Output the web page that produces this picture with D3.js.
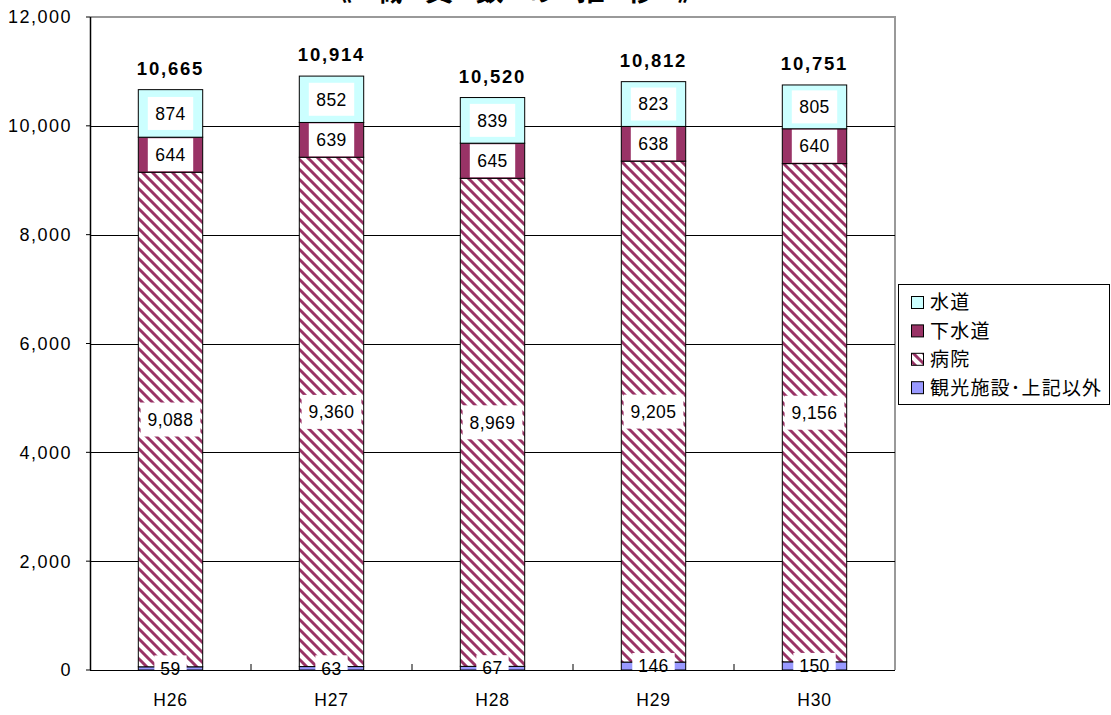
<!DOCTYPE html>
<html><head><meta charset="utf-8">
<script src="https://cdn.jsdelivr.net/npm/d3@7"></script>
<style>
html,body{margin:0;padding:0;background:#fff;}
svg{display:block;font-family:"Liberation Sans","Noto Sans CJK JP",sans-serif;}
</style></head>
<body>
<svg id="chart" width="1111" height="715"></svg>
<script>
const categories = ["H26","H27","H28","H29","H30"];
const seriesNames = ["観光施設･上記以外","病院","下水道","水道"];
const kankou  = [59, 63, 67, 146, 150];
const byouin  = [9088, 9360, 8969, 9205, 9156];
const gesuidou= [644, 639, 645, 638, 640];
const suidou  = [874, 852, 839, 823, 805];
const yTicks  = [0,2000,4000,6000,8000,10000,12000];
const legendOrder = ["水道","下水道","病院","観光施設･上記以外"];
const titleChars = ["《","職","員","数","の","推","移","》"];

const svg = d3.select("#chart");
const L = 90, R = 895, T = 17, B = 670;

const x = d3.scaleBand().domain(categories).range([L, R]).paddingInner(0.6).paddingOuter(0.3);
const y = d3.scaleLinear().domain([0, 12000]).range([B, T]);

const defs = svg.append("defs");
const P = 10;
const pat = defs.append("pattern").attr("id","hatch").attr("patternUnits","userSpaceOnUse")
  .attr("width",P).attr("height",P);
pat.append("rect").attr("width",P).attr("height",P).attr("fill","#fff");
pat.append("path").attr("d",`M0,0L${P},${P}M${-P/2},${P/2}L${P/2},${P*1.5}M${P/2},${-P/2}L${P*1.5},${P/2}`)
  .attr("stroke","#993366").attr("stroke-width",3);

const colors = {"水道":"#ccffff","下水道":"#993366","病院":"url(#hatch)","観光施設･上記以外":"#9999ff"};

// title (cut off at top edge, as in the reference)
svg.append("g").selectAll("text").data(titleChars).join("text")
  .attr("x",(d,i)=>338 + i*50.5).attr("y",1)
  .attr("text-anchor","middle").attr("font-size",28).attr("font-weight","bold")
  .attr("font-family","Noto Sans CJK JP").text(d=>d);

// plot border top/right (gray)
svg.append("path").attr("d",`M${L},${T}H${R}V${B}`).attr("fill","none").attr("stroke","#999").attr("stroke-width",2);

// gridlines
svg.append("g").selectAll("line").data(yTicks.filter(v=>v>0 && v<12000)).join("line")
  .attr("x1",L).attr("x2",R).attr("y1",d=>Math.round(y(d))+0.5).attr("y2",d=>Math.round(y(d))+0.5)
  .attr("stroke","#000").attr("stroke-width",1);

// stacked data
const table = categories.map((c,i)=>({cat:c,"観光施設･上記以外":kankou[i],"病院":byouin[i],"下水道":gesuidou[i],"水道":suidou[i]}));
const stack = d3.stack().keys(seriesNames)(table);

const gBars = svg.append("g");
stack.forEach(layer=>{
  gBars.append("g").selectAll("rect").data(layer).join("rect")
    .attr("x",d=>x(d.data.cat)).attr("width",x.bandwidth())
    .attr("y",d=>y(d[1])).attr("height",d=>y(d[0])-y(d[1]))
    .attr("fill",colors[layer.key]).attr("stroke","#000").attr("stroke-width",1);
});

// value labels
const gLab = svg.append("g").attr("font-size",17.5);
stack.forEach(layer=>{
  layer.forEach(d=>{
    const v = d.data[layer.key];
    const cx = x(d.data.cat) + x.bandwidth()/2;
    const cy = (y(d[0])+y(d[1]))/2;
    const g = gLab.append("g");
    const rect = g.append("rect").attr("fill","#fff");
    const t = g.append("text").attr("x",cx).attr("y",cy).attr("dy","0.36em")
      .attr("text-anchor","middle").attr("letter-spacing",0.4).text(d3.format(",")(v));
    const w = t.node().getComputedTextLength();
    let bw, bh;
    if (layer.key==="病院"){ bw = w+14; bh = 34; }
    else if (layer.key==="観光施設･上記以外"){ bw = w+12; bh = 26; }
    else { bw = w+15; bh = Math.min(33, y(d[0])-y(d[1])-1); }
    rect.attr("x",cx-bw/2).attr("y",cy-bh/2).attr("width",bw).attr("height",bh);
  });
});

// totals
const topLayer = stack[stack.length-1];
svg.append("g").selectAll("text").data(topLayer).join("text")
  .attr("x",d=>x(d.data.cat)+x.bandwidth()/2).attr("y",d=>y(d[1])-15)
  .attr("text-anchor","middle").attr("font-size",18.5).attr("font-weight","bold").attr("letter-spacing",1.8)
  .text(d=>d3.format(",")(d[1]));

// x axis
const xb = svg.append("g");
xb.append("line").attr("x1",L).attr("x2",R).attr("y1",B+0.5).attr("y2",B+0.5).attr("stroke","#000");
xb.selectAll("line.tk").data(d3.range(1,categories.length)).join("line").attr("class","tk")
  .attr("x1",i=>L+i*x.step()).attr("x2",i=>L+i*x.step()).attr("y1",B).attr("y2",B-6).attr("stroke","#000");
xb.selectAll("text").data(categories).join("text")
  .attr("x",d=>x(d)+x.bandwidth()/2).attr("y",B+36).attr("text-anchor","middle")
  .attr("font-size",17.5).attr("letter-spacing",0.8).text(d=>d);

// y axis
const ya = svg.append("g");
ya.append("line").attr("x1",L+0.5).attr("x2",L+0.5).attr("y1",T).attr("y2",B).attr("stroke","#000").attr("stroke-width",1.5);
ya.selectAll("line.tk").data(yTicks).join("line").attr("class","tk")
  .attr("x1",L-4).attr("x2",L).attr("y1",d=>y(d)).attr("y2",d=>y(d)).attr("stroke","#000");
ya.selectAll("text").data(yTicks).join("text")
  .attr("x",72).attr("y",d=>y(d)).attr("dy","0.36em").attr("text-anchor","end")
  .attr("font-size",18).attr("letter-spacing",1.5).text(d=>d3.format(",")(d));

// legend
const lg = svg.append("g");
lg.append("rect").attr("x",898.5).attr("y",284.5).attr("width",211).attr("height",120)
  .attr("fill","#fff").attr("stroke","#000");
legendOrder.forEach((k,i)=>{
  const yy = 302.5 + i*28.4;
  lg.append("rect").attr("x",911.5).attr("y",yy-6).attr("width",12).attr("height",12)
    .attr("fill",colors[k]).attr("stroke","#000");
  lg.append("text").attr("x",930).attr("y",yy).attr("dy","0.36em").attr("letter-spacing",1.2)
    .attr("font-size",19).attr("font-family","Noto Sans CJK JP").text(k);
});
</script>
</body></html>
